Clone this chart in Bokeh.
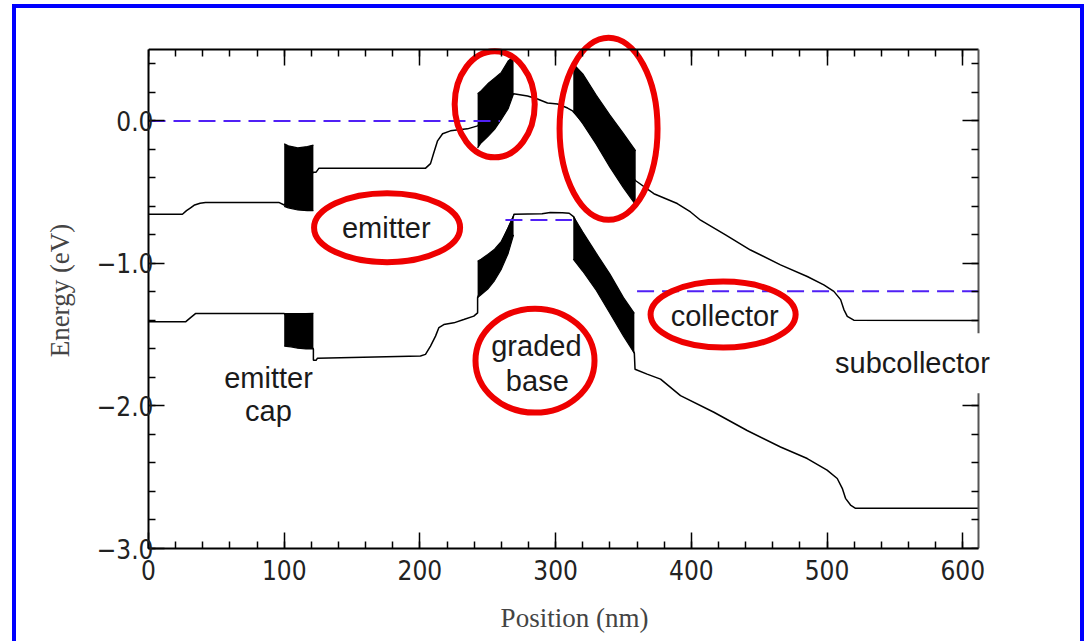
from bokeh.plotting import figure
from bokeh.models import (Range1d, LinearAxis, FixedTicker, CustomJSTickFormatter, Label)
from bokeh.embed import file_html
from bokeh.resources import INLINE

# ---------------- data ----------------
# conduction band edge (eV) vs position (nm)
ec_x = [0, 25, 28, 31, 34, 38, 42, 96, 100, 121.5, 123.5, 125.5, 204, 207.8, 210, 213,
        216.7, 222.5, 235, 242.5, 269, 279.3, 286.6, 294, 301.4, 308.8, 312.5, 359,
        372.4, 389.6, 399.4, 406.8, 425.2, 443.6, 465.7, 485.4, 497.6, 505, 510,
        512.4, 514.9, 519.7, 611.6]
ec_y = [-0.655, -0.655, -0.63, -0.61, -0.59, -0.578, -0.572, -0.572, -0.59, -0.36,
        -0.36, -0.333, -0.333, -0.30, -0.23, -0.14, -0.09, -0.07, -0.056, -0.035,
        0.19, 0.174, 0.153, 0.125, 0.118, 0.09, 0.07, -0.42, -0.511, -0.58, -0.639,
        -0.697, -0.80, -0.906, -1.01, -1.092, -1.15, -1.196, -1.254, -1.324, -1.371,
        -1.398, -1.40]

# valence band edge
ev_x = [0, 27.3, 31, 34.6, 100, 121.5, 121.5, 123.5, 124.5, 200.4, 204.1, 207.8,
        211.5, 214, 217.6, 225, 232.3, 239.7, 242.5, 242.5, 269.2, 269.2, 290, 296,
        305, 310, 313.4, 358, 358.5, 367.4, 377.3, 392, 416.6, 441.1, 465.7, 485.4,
        500, 507.5, 511.2, 513.6, 517.3, 521, 611.6]
ev_y = [-1.41, -1.41, -1.38, -1.352, -1.352, -1.60, -1.68, -1.68, -1.665, -1.649,
        -1.638, -1.58, -1.51, -1.45, -1.429, -1.417, -1.394, -1.37, -1.347, -1.24,
        -0.662, -0.655, -0.652, -0.642, -0.645, -0.648, -0.674, -1.63, -1.742,
        -1.777, -1.812, -1.928, -2.044, -2.172, -2.288, -2.369, -2.45, -2.509,
        -2.578, -2.648, -2.695, -2.718, -2.718]

# dense (filled) graded regions: x, upper envelope, lower envelope
ec_blk1_x = [100, 103, 110, 117, 121.5]
ec_blk1_hi = [-0.16, -0.175, -0.19, -0.18, -0.17]
ec_blk1_lo = [-0.60, -0.61, -0.625, -0.63, -0.63]

ev_blk1_x = [100, 105, 110, 116, 121.5]
ev_blk1_hi = [-1.352, -1.352, -1.352, -1.352, -1.35]
ev_blk1_lo = [-1.58, -1.585, -1.595, -1.60, -1.60]

ec_blk2_x = [242.5, 245, 250, 255, 260, 265, 269]
ec_blk2_hi = [0.19, 0.21, 0.26, 0.30, 0.34, 0.42, 0.45]
ec_blk2_lo = [-0.19, -0.155, -0.11, -0.06, 0.01, 0.085, 0.19]

ev_blk2_x = [242.5, 245, 250, 255, 260, 265, 269]
ev_blk2_hi = [-0.985, -0.97, -0.937, -0.90, -0.845, -0.75, -0.665]
ev_blk2_lo = [-1.24, -1.22, -1.18, -1.12, -1.04, -0.93, -0.80]

ec_blk3_x = [313, 320, 330, 340, 350, 359]
ec_blk3_hi = [0.40, 0.33, 0.18, 0.04, -0.09, -0.21]
ec_blk3_lo = [0.07, -0.02, -0.165, -0.325, -0.47, -0.59]

ev_blk3_x = [313, 320, 330, 340, 350, 358]
ev_blk3_hi = [-0.67, -0.78, -0.93, -1.075, -1.24, -1.35]
ev_blk3_lo = [-0.97, -1.055, -1.19, -1.35, -1.51, -1.63]

# quasi-Fermi levels (dashed)
fermi_x0 = [0, 263, 360]
fermi_x1 = [259, 312, 611.6]
fermi_y = [0.0, -0.695, -1.196]

# axis ticks
x_ticks = [0, 100, 200, 300, 400, 500, 600]
x_minor = list(range(0, 620, 20))
y_ticks = [-3.0, -2.0, -1.0, 0.0]
y_minor = [round(-3.0 + 0.2 * i, 1) for i in range(18)]

label_texts = ["emitter", "emitter", "cap", "graded", "base", "collector", "subcollector"]

X_MAX = 611.6
Y_MIN = -3.0
Y_TOP = 0.5

# ---------------- figure ----------------
p = figure(width=1085, height=641, x_range=Range1d(0, 627.8), y_range=Range1d(Y_MIN, 0.62),
           output_backend="svg", toolbar_location=None,
           min_border_left=148, min_border_right=85, min_border_top=32, min_border_bottom=93)
p.outline_line_color = None
p.grid.visible = False
p.background_fill_color = "white"
p.border_fill_alpha = 0
p.styles = {"box-shadow": "inset 12px 4px 0 0 #ffffff, inset -1px 0 0 0 #ffffff, "
                          "inset 16px 8px 0 0 #0000ff, inset -5px 0 0 0 #0000ff",
            "background-color": "#ffffff"}

TICK_FONT = "DejaVu Sans Condensed"


def style_axis(ax, ticks, minor):
    ax.ticker = FixedTicker(ticks=ticks, minor_ticks=minor)
    ax.axis_line_color = "black"
    ax.axis_line_width = 2
    ax.major_tick_in = 16
    ax.major_tick_out = 0
    ax.minor_tick_in = 7
    ax.minor_tick_out = 0
    ax.major_tick_line_color = "black"
    ax.major_tick_line_width = 1.5
    ax.minor_tick_line_color = "black"
    ax.minor_tick_line_width = 1.5
    ax.major_label_text_font = TICK_FONT
    ax.major_label_text_font_size = "26px"
    ax.major_label_text_color = "#222222"


xb = p.xaxis[0]
style_axis(xb, x_ticks, x_minor)
xb.bounds = (0, X_MAX)
xb.major_label_standoff = 11
xb.axis_label = "Position (nm)"
xb.axis_label_text_font = "Liberation Serif"
xb.axis_label_text_font_style = "normal"
xb.axis_label_text_font_size = "27px"
xb.axis_label_text_color = "#444444"
xb.axis_label_standoff = 20

yl = p.yaxis[0]
style_axis(yl, y_ticks, y_minor)
yl.bounds = (Y_MIN, Y_TOP)
yl.major_label_standoff = -5
yl.formatter = CustomJSTickFormatter(
    code="return tick == 0 ? '0.0' : '\u2212' + Math.abs(tick).toFixed(1);")
yl.axis_label = "Energy (eV)"
yl.axis_label_text_font = "Liberation Serif"
yl.axis_label_text_font_style = "normal"
yl.axis_label_text_font_size = "27px"
yl.axis_label_text_color = "#444444"
yl.axis_label_standoff = 19

yr = LinearAxis(bounds=(Y_MIN, Y_TOP), fixed_location=X_MAX)
style_axis(yr, y_ticks, y_minor)
yr.axis_line_color = "#555555"
yr.formatter = CustomJSTickFormatter(code="return '';")
p.add_layout(yr, "right")

xt = LinearAxis(bounds=(0, X_MAX), fixed_location=Y_TOP)
style_axis(xt, x_ticks, x_minor)
xt.formatter = CustomJSTickFormatter(code="return '';")
p.add_layout(xt, "above")

# filled graded regions
for bx, hi, lo in [(ec_blk1_x, ec_blk1_hi, ec_blk1_lo), (ev_blk1_x, ev_blk1_hi, ev_blk1_lo),
                   (ec_blk2_x, ec_blk2_hi, ec_blk2_lo), (ev_blk2_x, ev_blk2_hi, ev_blk2_lo),
                   (ec_blk3_x, ec_blk3_hi, ec_blk3_lo), (ev_blk3_x, ev_blk3_hi, ev_blk3_lo)]:
    p.varea(x=bx, y1=lo, y2=hi, fill_color="black")
    p.line(bx, hi, line_color="black", line_width=1.2)
    p.line(bx, lo, line_color="black", line_width=1.2)

# band edges
p.line(ec_x, ec_y, line_color="black", line_width=1.5)
p.line(ev_x, ev_y, line_color="black", line_width=1.5)

# Fermi levels
p.segment(x0=fermi_x0, y0=fermi_y, x1=fermi_x1, y1=fermi_y,
          line_color="#5020f5", line_width=2, line_dash="17 8")

# red highlight ellipses
p.ellipse(x=[175.8, 255.1, 339.0, 284.8, 423.4],
          y=[-0.749, 0.116, -0.056, -1.682, -1.359],
          width=[107.6, 59.0, 72.2, 87.7, 106.9],
          height=[0.484, 0.744, 1.277, 0.730, 0.463],
          fill_color=None, line_color="#ee0000", line_width=6)

# text annotations
label_pos = [(175.2, -0.749), (88.4, -1.802), (88.4, -2.038), (285.8, -1.577),
             (286.5, -1.823), (424.6, -1.367), (562.9, -1.701)]
for txt, (lx, ly) in zip(label_texts, label_pos):
    kw = {}
    if txt == "subcollector":
        kw = dict(background_fill_color="white", padding=14)
    p.add_layout(Label(x=lx, y=ly, text=txt, text_align="center",
                       text_baseline="alphabetic", text_font="Liberation Sans",
                       text_font_size="29px", text_color="#1a1a1a", **kw))

open("out.html", "w").write(file_html(p, INLINE))
